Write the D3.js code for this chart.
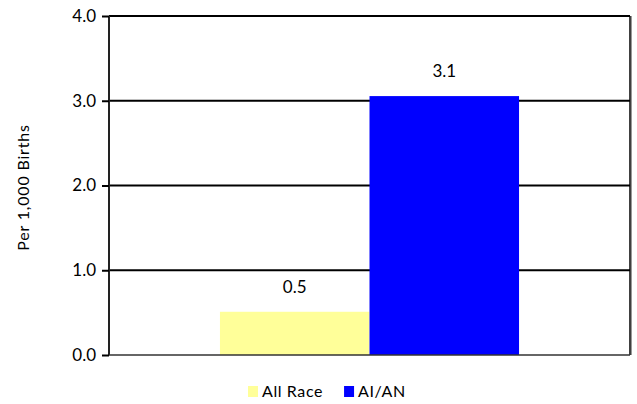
<!DOCTYPE html>
<html><head><meta charset="utf-8">
<script src="https://cdn.jsdelivr.net/npm/d3@7"></script>
<style>body{margin:0;background:#fff}svg{display:block}text{font-family:Lato,"DejaVu Sans",sans-serif;fill:#000}</style>
</head><body>
<script>
const categories = ["Rate"];
const seriesNames = ["All Race", "AI/AN"];
const seriesValues = [0.51, 3.055];
const seriesColors = ["#FFFF99", "#0000FF"];
const yTicks = [0, 1, 2, 3, 4];
const yTitle = "Per 1,000 Births";

const W = 637, H = 404;
const m = {left: 109, right: 7, top: 16, bottom: 49};
const svg = d3.select("body").append("svg").attr("width", W).attr("height", H);
const iw = W - m.left - m.right, ih = H - m.top - m.bottom;
const g = svg.append("g").attr("transform", `translate(${m.left},${m.top})`);

const y = d3.scaleLinear().domain([0, 4]).range([ih, 0]);
const x0 = d3.scaleBand().domain(categories).range([0, iw]).paddingInner(0).paddingOuter(0.371);
const x1 = d3.scaleBand().domain(seriesNames).range([0, x0.bandwidth()]).padding(0);

// gridlines
g.append("g").selectAll("line").data(yTicks.filter(t => t > 0)).join("line")
  .attr("x1", 0).attr("x2", iw).attr("y1", d => y(d)).attr("y2", d => y(d))
  .attr("stroke", "#000").attr("stroke-width", 2);

// right border
g.append("line").attr("x1", iw).attr("x2", iw).attr("y1", 0).attr("y2", ih)
  .attr("stroke", "#000").attr("stroke-width", 1.5);
g.append("line").attr("x1", iw + 1.5).attr("x2", iw + 1.5).attr("y1", 0).attr("y2", ih)
  .attr("stroke", "#999").attr("stroke-width", 1);

// bars
const grp = g.selectAll(".grp").data(categories).join("g").attr("transform", d => `translate(${x0(d)},0)`);
grp.selectAll("rect").data(seriesNames.map((s, i) => ({s, v: seriesValues[i], c: seriesColors[i]}))).join("rect")
  .attr("x", d => x1(d.s)).attr("width", x1.bandwidth())
  .attr("y", d => y(d.v)).attr("height", d => ih - y(d.v)).attr("fill", d => d.c);

// value labels
grp.selectAll("text.v").data(seriesNames.map((s, i) => ({s, v: seriesValues[i]}))).join("text")
  .attr("class", "v").attr("x", d => x1(d.s) + x1.bandwidth() / 2).attr("y", d => y(d.v) - 19)
  .attr("text-anchor", "middle").style("font-size", "17px").text(d => d3.format(".1f")(d.v));

// y axis
const ya = g.append("g").call(d3.axisLeft(y).tickValues(yTicks).tickFormat(d3.format(".1f")).tickSize(7).tickPadding(6));
ya.select(".domain").attr("stroke", "#222").attr("stroke-width", 2).attr("d", `M0,0V${ih}`);
ya.selectAll(".tick line").attr("stroke", "#000").attr("stroke-width", 2);
ya.selectAll(".tick text").style("font-size", "17px").attr("font-family", "Lato");

// x axis baseline
g.append("line").attr("x1", 0).attr("x2", iw).attr("y1", ih).attr("y2", ih).attr("stroke", "#333").attr("stroke-width", 1.5);

// y title
svg.append("text").attr("transform", `translate(29,${m.top + ih / 2 + 2}) rotate(-90)`)
  .attr("text-anchor", "middle").style("font-size", "16px").style("letter-spacing", "0.8px").text(yTitle);

// legend
const lg = svg.append("g").attr("transform", "translate(248,386)");
let lx = 0;
seriesNames.forEach((s, i) => {
  const it = lg.append("g").attr("transform", `translate(${lx},0)`);
  it.append("rect").attr("width", 10).attr("height", 11).attr("fill", seriesColors[i]);
  const t = it.append("text").attr("x", 14).attr("y", 11).style("font-size", "16px").style("letter-spacing", "0.6px").text(s);
  lx += 14 + t.node().getComputedTextLength() + 21;
});
</script>
</body></html>
